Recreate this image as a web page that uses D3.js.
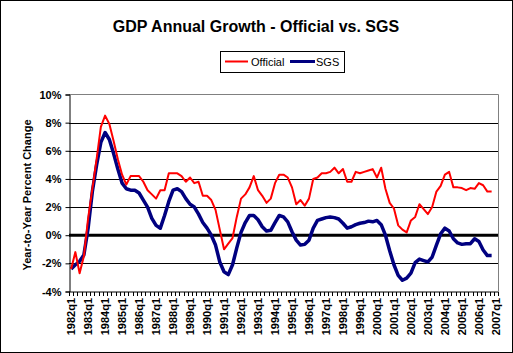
<!DOCTYPE html>
<html>
<head>
    <title>GDP Annual Growth</title>
    <script src="https://cdn.jsdelivr.net/npm/d3@7"></script>
    <style>
        body { margin: 0; background: #fff; }
        text { font-family: Arial, "Liberation Sans", sans-serif; }
    </style>
</head>
<body>
    <svg width="513" height="353" id="mainsvg"></svg>
    <script>
        // quarters 1982q1 .. 2007q1 (last category has no data)
        const years = d3.range(1982, 2008);
        const quarters = [];
        years.forEach(y => [1, 2, 3, 4].forEach(q => { if (y < 2007 || q === 1) quarters.push(y + 'q' + q); }));

        const official = [
            -2.4, -1.2, -2.7, -1.5, 1.2, 3.3, 5.4, 7.7, 8.5, 7.9, 6.7, 5.4, 4.3, 3.6, 4.2, 4.2, 4.2, 3.8, 3.2, 2.9, 2.6, 3.2, 3.2, 4.4, 4.4,
            4.4, 4.2, 3.8, 4.1, 3.7, 3.8, 2.8, 2.8, 2.5, 1.8, 0.4, -1.0, -0.6, -0.2, 1.3, 2.6, 2.9, 3.4, 4.2, 3.2, 2.8, 2.3, 2.6, 3.7, 4.3,
            4.3, 4.1, 3.4, 2.2, 2.5, 2.1, 2.6, 4.0, 4.1, 4.4, 4.4, 4.5, 4.8, 4.4, 4.7, 3.8, 3.8, 4.5, 4.4, 4.5, 4.6, 4.7, 4.1, 4.8, 3.3,
            2.3, 1.9, 0.7, 0.4, 0.2, 1.05, 1.3, 2.2, 1.85, 1.5, 2.0, 3.1, 3.5, 4.3, 4.5, 3.4, 3.4, 3.35, 3.2, 3.35, 3.3, 3.7, 3.55, 3.1, 3.1
        ];
        const sgs = [
            -2.4, -2.1, -1.85, -1.4, 0.5, 3.1, 5.0, 6.6, 7.3, 6.8, 5.8, 4.7, 3.7, 3.3, 3.2, 3.2, 3.0, 2.5, 2.0, 1.2, 0.7, 0.5, 1.4, 2.4, 3.2,
            3.3, 3.1, 2.6, 2.2, 2.0, 1.5, 0.9, 0.5, 0.0, -0.7, -1.9, -2.6, -2.8, -2.1, -0.9, 0.2, 0.9, 1.4, 1.4, 1.1, 0.6, 0.3, 0.35, 0.9, 1.4,
            1.3, 0.95, 0.25, -0.35, -0.7, -0.65, -0.35, 0.5, 1.05, 1.15, 1.25, 1.3, 1.25, 1.15, 0.85, 0.5, 0.6, 0.75, 0.85, 0.9, 1.0, 0.95, 1.05, 0.75, 0.0,
            -1.1, -2.1, -2.85, -3.2, -3.05, -2.7, -1.95, -1.7, -1.8, -1.9, -1.55, -0.7, 0.1, 0.5, 0.3, -0.25, -0.55, -0.65, -0.6, -0.6, -0.25, -0.45, -1.05, -1.45, -1.45
        ];
        const yTicks = [-4, -2, 0, 2, 4, 6, 8, 10];

        const svg = d3.select('svg');
        const width = +svg.attr('width');
        const height = +svg.attr('height');

        svg.append('rect').attr('x', 0.5).attr('y', 0.5)
            .attr('width', width - 1).attr('height', height - 1)
            .attr('fill', 'white').attr('stroke', 'black');

        const pLeft = 69, pRight = 498, pTop = 94.5, pBottom = 291.5;
        const x = d3.scaleBand().domain(quarters).range([pLeft, pRight]).padding(0);
        const y = d3.scaleLinear().domain([-4, 10]).range([pBottom, pTop]);

        // title
        svg.append('text').attr('x', 256).attr('y', 31.5)
            .attr('text-anchor', 'middle').attr('font-size', 16).attr('font-weight', 'bold')
            .text('GDP Annual Growth - Official vs. SGS');

        // gridlines
        svg.append('g').selectAll('line').data(yTicks.filter(d => d !== 0 && d !== -4 && d !== 10)).join('line')
            .attr('x1', pLeft).attr('x2', pRight)
            .attr('y1', d => Math.round(y(d)) + 0.5).attr('y2', d => Math.round(y(d)) + 0.5)
            .attr('stroke', 'black').attr('stroke-width', 1);

        // plot border (top, right) grey
        svg.append('path')
            .attr('d', `M${pLeft},${pTop}H${pRight + 0.5}V${pBottom}`)
            .attr('fill', 'none').attr('stroke', '#808080').attr('stroke-width', 1);

        // y axis
        const yAxis = d3.axisLeft(y).tickValues(yTicks).tickSize(4).tickFormat(d => d + '%');
        const gy = svg.append('g').attr('transform', `translate(${pLeft + 0.5},0)`).call(yAxis);
        gy.select('.domain').attr('stroke', 'black');
        gy.selectAll('.tick line').attr('stroke', 'black');
        gy.selectAll('.tick text').attr('font-size', 11).attr('font-weight', 'bold')
            .attr('font-family', 'Arial, "Liberation Sans", sans-serif').attr('fill', 'black').attr('x', -8);

        // x axis: tick at every category boundary, labels on q1
        const gx = svg.append('g').attr('transform', `translate(0,${pBottom + 0.5})`);
        gx.append('line').attr('x1', pLeft).attr('x2', pRight + 0.5).attr('stroke', 'black');
        gx.selectAll('.qtick').data(quarters.concat(['end'])).join('line')
            .attr('class', 'qtick')
            .attr('x1', (d, i) => Math.round(pLeft + i * x.bandwidth()) + 0.5)
            .attr('x2', (d, i) => Math.round(pLeft + i * x.bandwidth()) + 0.5)
            .attr('y1', 0).attr('y2', 4).attr('stroke', 'black');
        gx.selectAll('.qlabel').data(quarters.filter(d => d.endsWith('q1'))).join('text')
            .attr('class', 'qlabel')
            .attr('transform', d => `translate(${x(d) + x.bandwidth() / 2 + 4},6) rotate(-90)`)
            .attr('text-anchor', 'end').attr('font-size', 11).attr('font-weight', 'bold')
            .text(d => d);

        // zero line
        svg.append('line').attr('x1', pLeft).attr('x2', pRight)
            .attr('y1', y(0)).attr('y2', y(0))
            .attr('stroke', 'black').attr('stroke-width', 3);

        // y axis title
        svg.append('text')
            .attr('transform', `translate(31,195) rotate(-90)`)
            .attr('text-anchor', 'middle').attr('font-size', 11).attr('font-weight', 'bold')
            .text('Year-to-Year Percent Change');

        const line = d3.line()
            .x((d, i) => x(quarters[i]) + x.bandwidth() / 2)
            .y(d => y(d));

        svg.append('path').datum(sgs).attr('d', line)
            .attr('fill', 'none').attr('stroke', '#000080').attr('stroke-width', 3.5)
            .attr('stroke-linejoin', 'round');
        svg.append('path').datum(official).attr('d', line)
            .attr('fill', 'none').attr('stroke', '#ff0000').attr('stroke-width', 2)
            .attr('stroke-linejoin', 'round');

        // legend
        const lg = svg.append('g');
        lg.append('rect').attr('x', 220.5).attr('y', 51.5).attr('width', 124).attr('height', 21)
            .attr('fill', 'white').attr('stroke', 'black');
        lg.append('line').attr('x1', 225).attr('x2', 248).attr('y1', 61.5).attr('y2', 61.5)
            .attr('stroke', '#ff0000').attr('stroke-width', 2);
        lg.append('text').attr('x', 251).attr('y', 65.5).attr('font-size', 11).text('Official');
        lg.append('line').attr('x1', 290).attr('x2', 315).attr('y1', 61.5).attr('y2', 61.5)
            .attr('stroke', '#000080').attr('stroke-width', 3);
        lg.append('text').attr('x', 316).attr('y', 65.5).attr('font-size', 11).text('SGS');
    </script>
</body>
</html>
